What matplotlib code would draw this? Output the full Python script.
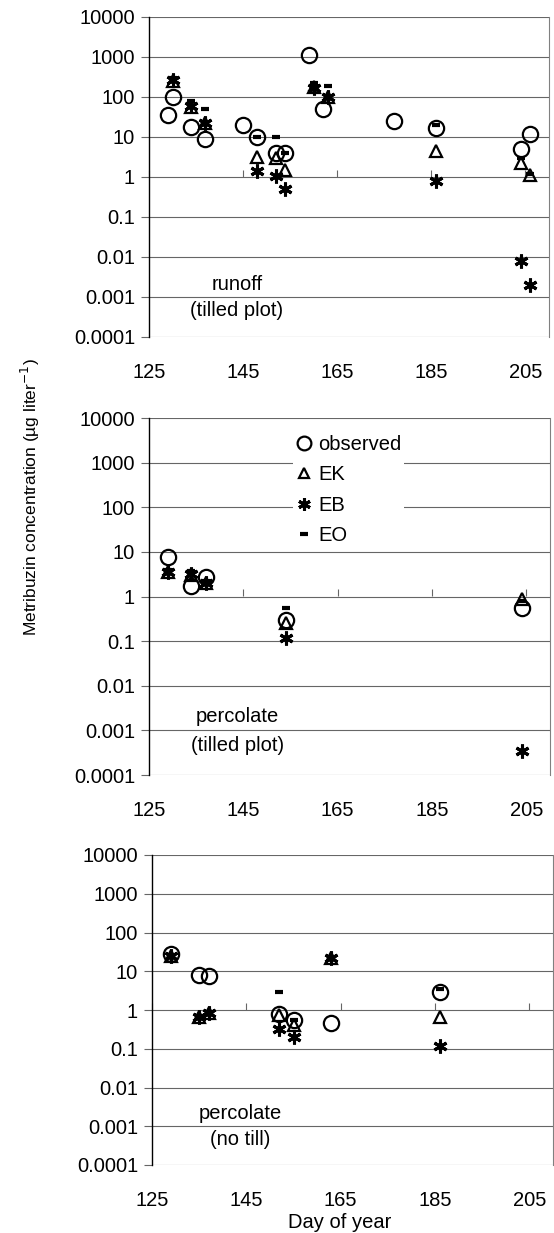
import numpy as np
import matplotlib.pyplot as plt

plt.rcParams['font.family'] = ['Liberation Sans', 'DejaVu Sans']

# runoff, tilled plot
obs1_day = [129, 130, 134, 137, 145, 148, 152, 154, 159, 162, 177, 186, 204, 206]
obs1 = [35, 100, 18, 9, 20, 10, 4, 4, 1100, 50, 25, 17, 5, 12]
mod1_day = [130, 134, 137, 148, 152, 154, 160, 163, 186, 204, 206]
ek1 = [250, 55, 22, 3.2, 3, 1.5, 180, 100, 4.5, 2.3, 1.1]
eb1 = [270, 60, 22, 1.4, 1.05, 0.5, 170, 100, 0.8, 0.008, 0.002]
eo1 = [300, 80, 50, 10, 10, 4, 220, 190, 20, 3, 1.2]

# percolate, tilled plot
obs2_day = [129, 134, 137, 154, 204]
obs2 = [7.5, 1.7, 2.8, 0.3, 0.55]
mod2_day = [129, 134, 137, 154, 204]
ek2 = [3.5, 3.0, 2.0, 0.25, 0.9]
eb2 = [3.5, 3.2, 2.0, 0.12, 0.00035]
eo2 = [4.0, 3.8, 2.2, 0.55, 0.8]

# percolate, no till
obs3_day = [129, 135, 137, 152, 155, 163, 186]
obs3 = [28, 8, 7.5, 0.8, 0.55, 0.45, 3]
mod3_day = [129, 135, 137, 152, 155, 163, 186]
ek3 = [25, 0.65, 0.85, 0.75, 0.4, 22, 0.65]
eb3 = [25, 0.65, 0.85, 0.33, 0.2, 22, 0.12]
eo3 = [27, 0.7, 0.9, 3.0, 0.55, 24, 3.5]

yticks = [0.0001, 0.001, 0.01, 0.1, 1, 10, 100, 1000, 10000]
ytick_labels = ['0.0001', '0.001', '0.01', '0.1', '1', '10', '100', '1000', '10000']
xticks = [125, 145, 165, 185, 205]

W, H = 554, 1233
FS = 14.5


def add_panel(left, top, right, bottom):
    return fig.add_axes([left / W, 1 - bottom / H, (right - left) / W, (bottom - top) / H])


def draw(ax, od, o, md, ek, eb, eo, note):
    ax.plot(od, o, 'o', ms=11, mfc='none', mec='black', mew=1.6, label='observed')
    ax.plot(md, ek, '^', ms=8, mfc='none', mec='black', mew=1.6, label='EK')
    ax.plot(md, eb, ls='none', marker=(6, 2, 0), ms=10, mec='black', mew=2.2, label='EB')
    ax.plot(md, eo, '_', ms=6, mec='black', mew=3, label='EO')

    ax.set_yscale('log')
    ax.set_ylim(0.0001, 10000)
    ax.set_xlim(125, 210)
    ax.set_yticks(yticks)
    ax.set_yticklabels(ytick_labels)
    ax.minorticks_off()
    ax.set_xticks(xticks)
    ax.grid(axis='y', color='0.4', lw=0.8)
    ax.tick_params(axis='y', length=6, color='0.4', width=0.8, pad=4, labelsize=FS)
    ax.tick_params(axis='x', length=0, pad=19, labelsize=FS)
    for s in ['top', 'bottom']:
        ax.spines[s].set_visible(False)
    ax.spines['right'].set_color('0.5')
    ax.spines['right'].set_linewidth(0.8)
    ax.spines['left'].set_linewidth(1.0)

    # category axis crosses at 1
    sec = ax.secondary_xaxis(0.5)
    sec.set_xticks(xticks)
    sec.tick_params(direction='out', length=5, color='0.4', width=0.8,
                    labelbottom=False, labeltop=False)
    for s in sec.spines.values():
        s.set_visible(False)

    ax.text(0.22, 0.165, note[0], transform=ax.transAxes, ha='center', va='center', fontsize=FS)
    ax.text(0.22, 0.082, note[1], transform=ax.transAxes, ha='center', va='center', fontsize=FS)


fig = plt.figure(figsize=(W / 100, H / 100), dpi=100)

ax1 = add_panel(149, 17, 549, 337)
ax2 = add_panel(149, 418, 550, 775)
ax3 = add_panel(152, 855, 553, 1165)

draw(ax1, obs1_day, obs1, mod1_day, ek1, eb1, eo1, ['runoff', '(tilled plot)'])
draw(ax2, obs2_day, obs2, mod2_day, ek2, eb2, eo2, ['percolate', '(tilled plot)'])
draw(ax3, obs3_day, obs3, mod3_day, ek3, eb3, eo3, ['percolate', '(no till)'])

leg = ax2.legend(loc='upper left', bbox_to_anchor=(293 / W, 1 - 432 / H),
                 bbox_transform=fig.transFigure, fontsize=FS, frameon=True,
                 fancybox=False, edgecolor='none', facecolor='white', framealpha=1,
                 handlelength=0.8, handletextpad=0.3, labelspacing=0.56,
                 borderpad=0.15, borderaxespad=0, markerscale=0.9)

fig.text(30 / W, 1 - 497 / H, 'Metribuzin concentration (µg liter$^{-1}$)',
         rotation=90, ha='center', va='center', fontsize=12.5)
fig.text(340 / W, 1 - 1222 / H, 'Day of year', ha='center', va='center', fontsize=FS)

fig.savefig('out.png', dpi=100)
